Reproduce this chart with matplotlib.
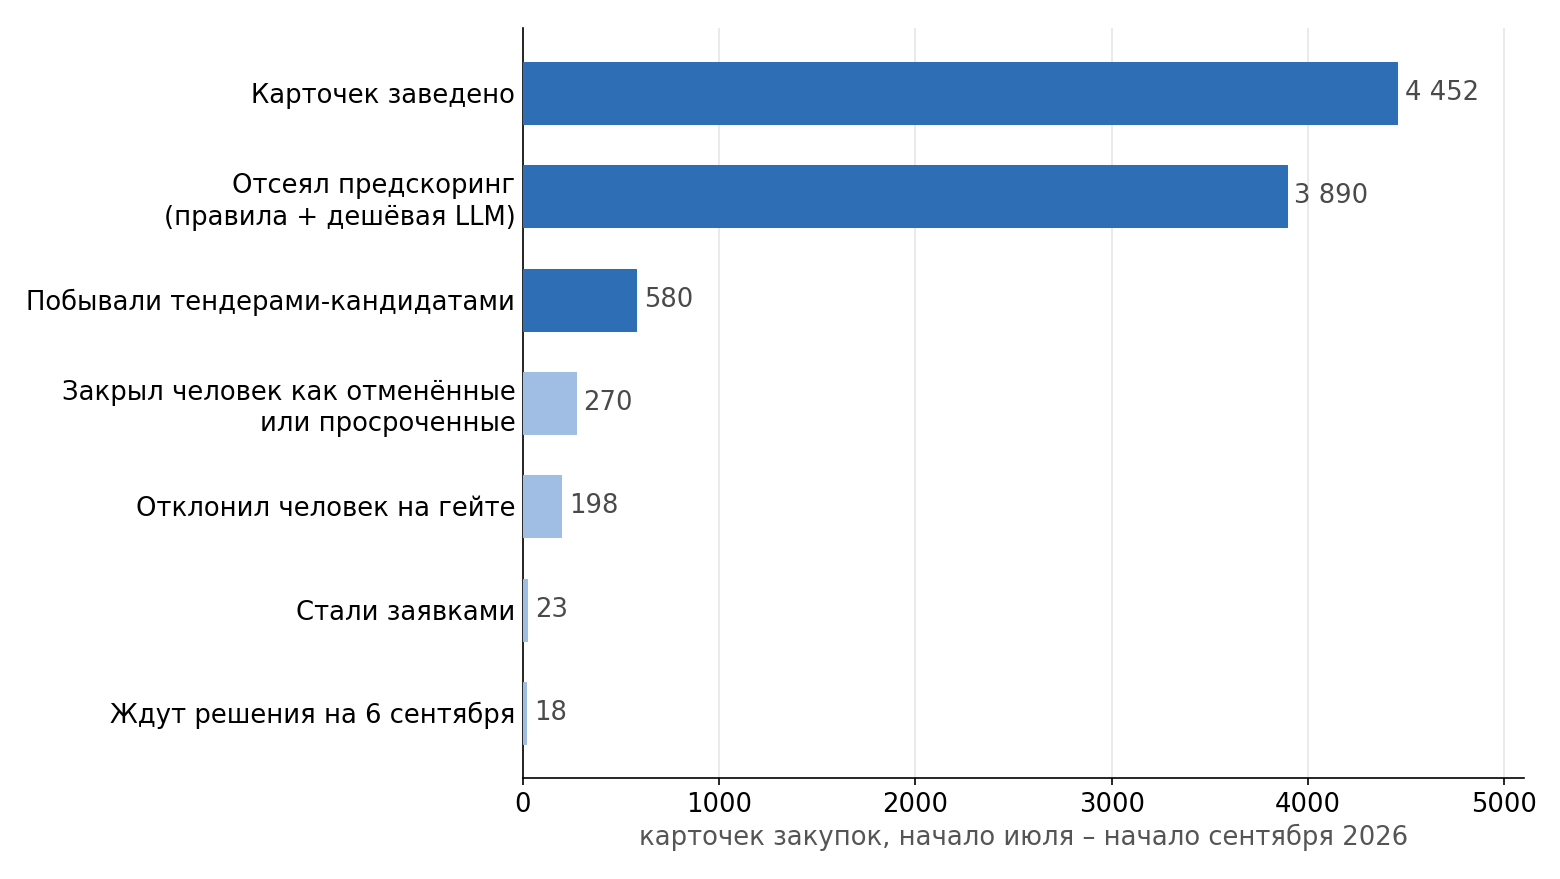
import matplotlib
matplotlib.use("Agg")
import matplotlib.pyplot as plt

plt.rcParams['font.family'] = ['DejaVu Sans']

categories = [
    'Карточек заведено',
    'Отсеял предскоринг\n(правила + дешёвая LLM)',
    'Побывали тендерами-кандидатами',
    'Закрыл человек как отменённые\nили просроченные',
    'Отклонил человек на гейте',
    'Стали заявками',
    'Ждут решения на 6 сентября',
]
values = [4452, 3890, 580, 270, 198, 23, 18]
value_labels = ['4 452', '3 890', '580', '270', '198', '23', '18']
highlight = [True, True, True, False, False, False, False]

dark = '#2E6EB5'
light = '#A0BEE3'
colors = [dark if h else light for h in highlight]

fig, ax = plt.subplots(figsize=(10.4, 5.86), dpi=150)
fig.subplots_adjust(left=0.335, right=0.977, top=0.968, bottom=0.115)

y = list(range(len(categories)))
bars = ax.barh(y, values, height=0.6, color=colors, edgecolor=colors, linewidth=0.5, zorder=3)
ax.invert_yaxis()

for b, lab in zip(bars, value_labels):
    ax.text(b.get_width() + 40, b.get_y() + b.get_height() / 2, lab,
            va='center', ha='left', fontsize=12.4, color='#4a4a4a')

ax.set_yticks(y)
ax.set_yticklabels(categories, fontsize=12.4, linespacing=1.27)
ax.tick_params(axis='y', length=0, pad=3.5)
ax.tick_params(axis='x', labelsize=12.4)
ax.set_xlim(0, 5100)
ax.set_xticks([0, 1000, 2000, 3000, 4000, 5000])
ax.grid(axis='x', color='#e6e6e6', linewidth=0.8, zorder=0)
ax.set_axisbelow(True)
for s in ['top', 'right']:
    ax.spines[s].set_visible(False)
ax.set_xlabel('карточек закупок, начало июля – начало сентября 2026', fontsize=12.4,
              color='#555555', labelpad=2.5)

fig.savefig('out.png', dpi=150)
